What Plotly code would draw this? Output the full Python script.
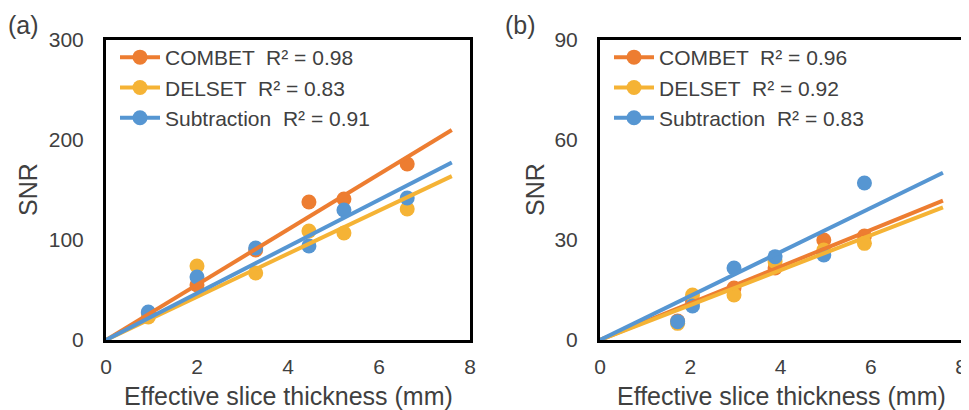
import numpy as np
import plotly.graph_objects as go

# ---------------- data ----------------
methods = ["COMBET", "DELSET", "Subtraction"]
colors = ["#ED7D31", "#F5B335", "#5696D2"]

# panel (a)
thick_a = [0.93, 2.0, 3.29, 4.46, 5.23, 6.62]
combet_a = [27, 55, 90, 138, 141, 176]
delset_a = [23, 74, 67, 109, 107, 131]
subtr_a = [28, 63, 92, 94, 130, 142]
r2_a = ["0.98", "0.83", "0.91"]

# panel (b)
thick_b = [1.72, 2.05, 2.97, 3.88, 4.96, 5.86]
combet_b = [5.7, 11.5, 15.6, 21.6, 30.0, 31.2]
delset_b = [5.0, 13.5, 13.5, 23.5, 27.0, 29.0]
subtr_b = [5.5, 10.2, 21.6, 25.0, 25.5, 47.1]
r2_b = ["0.96", "0.92", "0.83"]

trend_end = 7.6
x_ticks = [0, 2, 4, 6, 8]
y_ticks_a = [0, 100, 200, 300]
y_ticks_b = [0, 30, 60, 90]

TXT = "#404040"
FONT = "Liberation Sans, Arial, sans-serif"
FS = 21
FT = 25

fig = go.Figure()


def add_panel(xs, series, r2s, xa, ya, legend):
    # markers first
    for name, ys, col in zip(methods, series, colors):
        fig.add_trace(go.Scatter(x=xs, y=ys, mode="markers", xaxis=xa, yaxis=ya,
                                 marker=dict(size=15, color=col), showlegend=False,
                                 hoverinfo="skip"))
    # trendlines (linear, intercept 0)
    xarr = np.array(xs, dtype=float)
    for name, ys, col in zip(methods, series, colors):
        yarr = np.array(ys, dtype=float)
        slope = float((xarr * yarr).sum() / (xarr * xarr).sum())
        fig.add_trace(go.Scatter(x=[0, trend_end], y=[0, slope * trend_end], mode="lines",
                                 xaxis=xa, yaxis=ya, line=dict(color=col, width=4),
                                 showlegend=False, hoverinfo="skip"))
    # legend entries
    for name, r2, col in zip(methods, r2s, colors):
        fig.add_trace(go.Scatter(x=[None], y=[None], mode="lines+markers", xaxis=xa, yaxis=ya,
                                 name=f"{name}  R² = {r2}", legend=legend,
                                 line=dict(color=col, width=4),
                                 marker=dict(size=15, color=col)))


add_panel(thick_a, [combet_a, delset_a, subtr_a], r2_a, "x", "y", "legend")
add_panel(thick_b, [combet_b, delset_b, subtr_b], r2_b, "x2", "y2", "legend2")

# page has an 8px body margin: figure is sized to fit the 969x410 window
OFF = 8
W, H = 969 - OFF, 410 - OFF


def px(x):
    return (x - OFF) / W


def py(y):
    return 1 - (y - OFF) / H


yd = [py(340), py(40)]

axis_common = dict(showgrid=False, zeroline=False, showline=True, mirror=True,
                   linecolor="black", linewidth=3, ticks="", automargin=False,
                   tickfont=dict(family=FONT, size=FS, color=TXT))

leg_common = dict(font=dict(family=FONT, size=FS, color=TXT), bgcolor="rgba(0,0,0,0)",
                  xanchor="left", yanchor="top", tracegroupgap=0, itemwidth=40)


def ann(text, x, y, size, angle=0):
    return dict(text=text, x=px(x), y=py(y), xref="paper", yref="paper",
                xanchor="center", yanchor="middle",
                showarrow=False, textangle=angle,
                font=dict(size=size, color=TXT, family=FONT))


fig.update_layout(
    width=W, height=H, margin=dict(l=0, r=0, t=0, b=0, autoexpand=False),
    paper_bgcolor="white", plot_bgcolor="white",
    font=dict(family=FONT, size=FS, color=TXT),
    xaxis=dict(domain=[px(106), px(470)], range=[0, 8], tickvals=x_ticks,
               anchor="y", ticklabelstandoff=6, **axis_common),
    yaxis=dict(domain=yd, range=[0, 300], tickvals=y_ticks_a, anchor="x",
               ticklabelstandoff=15, **axis_common),
    xaxis2=dict(domain=[px(600), px(961)], range=[0, 8], tickvals=x_ticks,
                anchor="y2", ticklabelstandoff=6, **axis_common),
    yaxis2=dict(domain=yd, range=[0, 90], tickvals=y_ticks_b, anchor="x2",
                ticklabelstandoff=15, **axis_common),
    legend=dict(x=px(115), y=py(37), **leg_common),
    legend2=dict(x=px(609), y=py(37), **leg_common),
    annotations=[
        ann("(a)", 23, 25, FT),
        ann("(b)", 520, 25, FT),
        ann("SNR", 28, 190, FT, -90),
        ann("SNR", 535, 190, FT, -90),
        ann("Effective slice thickness (mm)", 288, 396, FT),
        ann("Effective slice thickness (mm)", 781, 396, FT),
    ],
)

fig.write_html("out.html")
